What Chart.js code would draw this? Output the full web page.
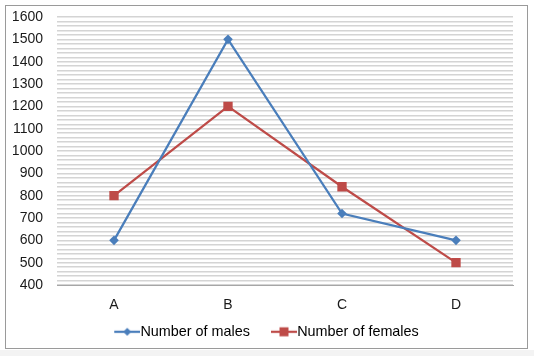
<!DOCTYPE html>
<html>
<head>
<meta charset="utf-8">
<script src="https://cdn.jsdelivr.net/npm/chart.js@4"></script>
<style>
  html, body { margin: 0; padding: 0; background: #ffffff; }
  body { width: 534px; height: 356px; position: relative; overflow: hidden; }
  #frame { position: absolute; left: 5px; top: 5px; width: 521px; height: 342px; border: 1px solid #9a9a9a; background: #ffffff; overflow: hidden; }
  #strip { position: absolute; left: 0; top: 350px; width: 534px; height: 6px; background: #f3f3f3; }
  canvas { display: block; }
</style>
</head>
<body>
<div id="frame"><canvas id="c" width="521" height="343"></canvas></div>
<div id="strip"></div>
<script>
const categories = ['A', 'B', 'C', 'D'];
const males = [600, 1500, 720, 600];
const females = [800, 1200, 840, 500];
const seriesNames = ['Number of males', 'Number of females'];
const yMin = 400, yMax = 1600, yLabelStep = 100, yGridStep = 20;

const BLUE = '#4A7EBB';
const RED = '#BE4B48';
const FONT = "'Liberation Sans', Arial, sans-serif";

function legendIcon(color, shape) {
  const cv = document.createElement('canvas');
  cv.width = 40; cv.height = 14;
  const ctx = cv.getContext('2d');
  ctx.strokeStyle = color; ctx.lineWidth = 2.25;
  ctx.beginPath(); ctx.moveTo(14, 7); ctx.lineTo(40, 7); ctx.stroke();
  ctx.fillStyle = color;
  const cx = 27, cy = 7;
  ctx.beginPath();
  if (shape === 'diamond') {
    ctx.moveTo(cx, cy - 4); ctx.lineTo(cx + 4, cy); ctx.lineTo(cx, cy + 4); ctx.lineTo(cx - 4, cy); ctx.closePath();
  } else {
    ctx.rect(cx - 4.5, cy - 4.5, 9, 9);
  }
  ctx.fill();
  return cv;
}
const icons = [legendIcon(BLUE, 'diamond'), legendIcon(RED, 'square')];

new Chart(document.getElementById('c'), {
  type: 'line',
  data: {
    labels: categories,
    datasets: [
      { label: seriesNames[0], data: males, borderColor: BLUE, backgroundColor: BLUE,
        borderWidth: 2.25, pointStyle: 'rectRot', pointRadius: 4.8, pointBorderWidth: 0,
        pointBackgroundColor: BLUE, tension: 0 },
      { label: seriesNames[1], data: females, borderColor: RED, backgroundColor: RED,
        borderWidth: 2.25, pointStyle: 'rect', pointRadius: 6.6, pointBorderWidth: 0,
        pointBackgroundColor: RED, tension: 0 }
    ]
  },
  options: {
    responsive: false,
    animation: false,
    events: [],
    layout: { padding: { left: 7, right: 14, top: 11, bottom: 0 } },
    plugins: {
      tooltip: { enabled: false },
      legend: {
        position: 'bottom',
        labels: {
          usePointStyle: true,
          pointStyleWidth: 26,
          padding: 14,
          color: '#1a1a1a',
          font: { family: FONT, size: 14.4 },
          generateLabels: (chart) => chart.data.datasets.map((ds, i) => ({
            text: ds.label, pointStyle: icons[i], fillStyle: ds.borderColor,
            strokeStyle: ds.borderColor, lineWidth: 0, hidden: false, datasetIndex: i
          }))
        }
      }
    },
    scales: {
      x: {
        offset: true,
        grid: { display: false, drawTicks: false },
        border: { display: true, color: '#a6a6a6', width: 1 },
        ticks: { color: '#1a1a1a', font: { family: FONT, size: 14 }, padding: 12 },
        afterFit: (s) => { s.height = 25.6; }
      },
      y: {
        min: yMin, max: yMax,
        grid: { color: '#d4d4d4', lineWidth: 1.4, drawTicks: false },
        border: { display: false },
        ticks: {
          stepSize: yGridStep, autoSkip: false,
          color: '#1a1a1a', font: { family: FONT, size: 14 }, padding: 14,
          callback: (v) => (v % yLabelStep === 0 ? String(v) : '')
        },
        afterFit: (s) => { s.width = 44; s.paddingTop = 0; s.paddingBottom = 0; }
      }
    }
  }
});
</script>
</body>
</html>
